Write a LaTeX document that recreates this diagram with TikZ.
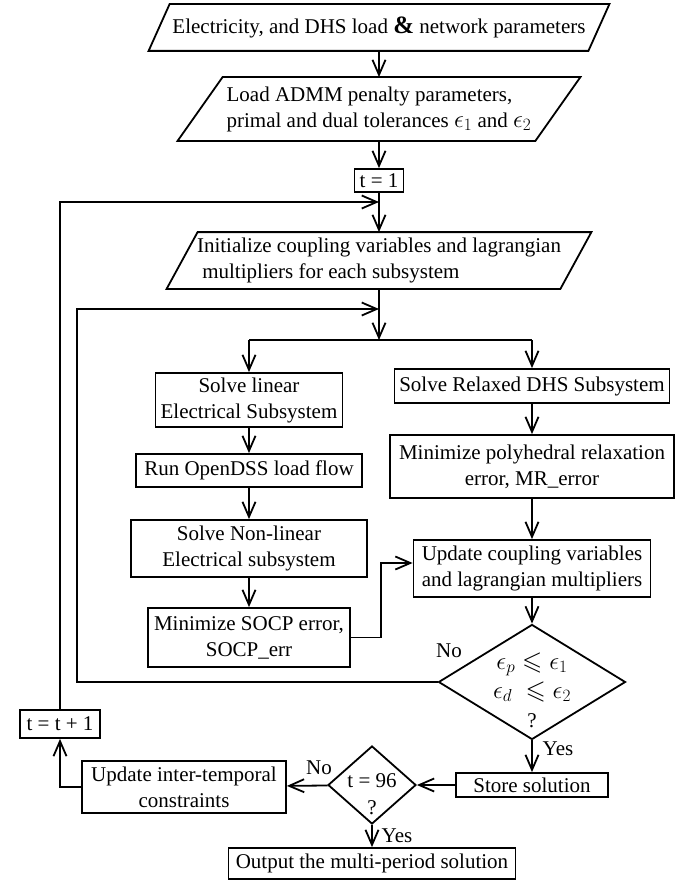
\documentclass[tikz,border=0pt]{standalone}
\usepackage{amssymb}
\usepackage{fontspec}
\setmainfont{Liberation Serif}
\usetikzlibrary{arrows.meta,shapes.geometric}
\newcommand{\myeps}[1]{{\fontsize{26}{26}\selectfont$\epsilon_{#1}$}}
\begin{document}
\begin{tikzpicture}[x=1pt,y=-1pt,
  line width=1.8pt,
  every node/.style={font=\fontsize{21}{26}\selectfont},
  box/.style={draw, rectangle, inner sep=1pt, align=center},
  para/.style={rectangle, inner sep=1pt},
  dia/.style={draw, diamond, inner sep=0pt},
  lbl/.style={inner sep=0pt},
  arr/.style={-{Straight Barb[length=15pt,width=13pt]}}
]
\useasboundingbox (0,0) rectangle (689,880);

% input parallelograms
\node[para, minimum width=438pt, minimum height=45pt] (b1) at (379,27.5)
  {Electricity, and DHS load {\bfseries\fontsize{25}{25}\selectfont\&} network parameters};
\draw ([xshift=-10.5pt]b1.south west) -- ([xshift=10.5pt]b1.north west) -- ([xshift=10.5pt]b1.north east) -- ([xshift=-10.5pt]b1.south east) -- cycle;

\node[para, align=left, minimum width=356pt, minimum height=62pt] (b2) at (379,109)
  {Load ADMM penalty parameters,\\primal and dual tolerances \myeps{1} and \myeps{2}};
\draw ([xshift=-22.5pt]b2.south west) -- ([xshift=22.5pt]b2.north west) -- ([xshift=22.5pt]b2.north east) -- ([xshift=-22.5pt]b2.south east) -- cycle;

\node[box, minimum width=49pt, minimum height=23pt] (t1) at (379,180.5) {t = 1};

\node[para, align=left, minimum width=392pt, minimum height=55pt] (init) at (379,260.5)
  {Initialize coupling variables and lagrangian\\\ multipliers for each subsystem};
\draw ([xshift=-15.5pt]init.south west) -- ([xshift=15.5pt]init.north west) -- ([xshift=15.5pt]init.north east) -- ([xshift=-15.5pt]init.south east) -- cycle;

% left column
\node[box, minimum width=187pt, minimum height=54pt] (lin) at (249,400) {Solve linear\\Electrical Subsystem};
\node[box, minimum width=226pt, minimum height=33pt] (dss) at (249,470.5) {Run OpenDSS load flow};
\node[box, minimum width=236pt, minimum height=57pt] (nl) at (249,548.5) {Solve Non-linear\\Electrical subsystem};
\node[box, minimum width=202pt, minimum height=59pt] (socp) at (249,637.5) {Minimize SOCP error,\\SOCP\_err};

% right column
\node[box, minimum width=275pt, minimum height=34pt] (rel) at (532,386) {Solve Relaxed DHS Subsystem};
\node[box, minimum width=284pt, minimum height=63pt] (poly) at (532,466.5) {Minimize polyhedral relaxation\\error, MR\_error};
\node[box, minimum width=237pt, minimum height=57pt] (upd) at (532,568.5) {Update coupling variables\\and lagrangian multipliers};

\node[dia, minimum width=187pt, minimum height=115pt] (d1) at (532,682) {};
\node[lbl, align=center, font=\fontsize{26}{29}\selectfont] (d1t) at (532,690)
  {$\epsilon_p \leqslant \epsilon_1$\\$\epsilon_d\ \leqslant \epsilon_2$\\{\fontsize{21}{21}\selectfont ?}};

\node[box, minimum width=152pt, minimum height=24pt] (store) at (532,785) {Store solution};

\node[dia, minimum width=88pt, minimum height=78pt] (d2) at (372,785) {};
\node[lbl, align=center, font=\fontsize{21}{27}\selectfont] (d2t) at (372,794) {t = 96\\?};

\node[box, minimum width=204pt, minimum height=52pt] (ui) at (184,787) {Update inter-temporal\\constraints};
\node[box, minimum width=80pt, minimum height=28pt] (tp) at (60,724) {t = t + 1};
\node[box, minimum width=287pt, minimum height=31pt] (out) at (372,863.5) {Output the multi-period solution};

% labels
\node[lbl] (no1) at (449,651) {No};
\node[lbl] (yes1) at (558,749) {Yes};
\node[lbl] (no2) at (319,768) {No};
\node[lbl] (yes2) at (397,836) {Yes};

% junction coordinates
\coordinate (j1) at (379,202);
\coordinate (j2) at (379,309);
\coordinate (sp) at (379,340);
\coordinate (k2) at (77,309);
\coordinate (k3) at (381,563);

% connectors
\draw[arr] (b1) -- (b2);
\draw[arr] (b2) -- (t1);
\draw[arr] (t1) -- (init);
\draw[arr] (tp.north) |- (j1);
\draw[arr] (d1.west) -| (k2) -- (j2);
\draw[arr] (init) -- (sp);
\draw (lin.north |- sp) -- (rel.north |- sp);
\draw[arr] (lin.north |- sp) -- (lin.north);
\draw[arr] (rel.north |- sp) -- (rel.north);
\draw[arr] (lin) -- (dss);
\draw[arr] (dss) -- (nl);
\draw[arr] (nl) -- (socp);
\draw[arr] (rel) -- (poly);
\draw[arr] (poly) -- (upd);
\draw[arr] (upd) -- (d1);
\draw[arr] (socp.east) -| (k3) -- (k3 -| upd.west);
\draw[arr] (d1.south) -- (store.north);
\draw[arr] (store) -- (d2);
\draw[arr] (d2) -- (ui);
\draw[arr] (ui.west) -| (tp.south);
\draw[arr] (d2.south) -- (out.north);
\end{tikzpicture}
\end{document}
